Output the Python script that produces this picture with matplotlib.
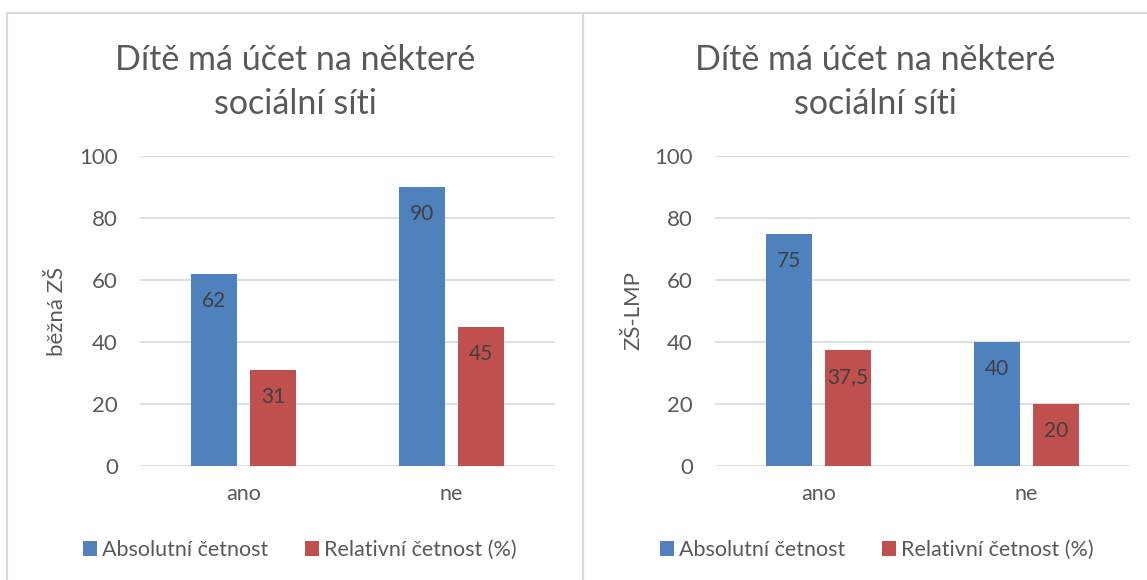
import matplotlib.pyplot as plt
from matplotlib.patches import Rectangle

plt.rcParams['font.family'] = ['Lato', 'DejaVu Sans']

categories = ["ano", "ne"]
left_abs = [62, 90]
left_rel = [31, 45]
right_abs = [75, 40]
right_rel = [37.5, 20]
yticks = [0, 20, 40, 60, 80, 100]
title = "Dítě má účet na některé\nsociální síti"
series_names = ["Absolutní četnost", "Relativní četnost (%)"]

BLUE = "#4F81BD"
RED = "#C0504D"
GRID = "#D9D9D9"
TXT = "#595959"
LBL = "#404040"

W, H = 1147, 580
fig = plt.figure(figsize=(W / 100, H / 100), dpi=100)

# panel frames
for x0, x1 in [(7, 583), (583, 1160)]:
    fig.patches.append(Rectangle((x0 / W, -0.1), (x1 - x0) / W, 1.1 - 13 / H,
                                 transform=fig.transFigure, fill=False,
                                 edgecolor=GRID, linewidth=1.5))


def fmt(v):
    return f"{v:g}".replace(".", ",")


def panel(left_px, abs_vals, rel_vals, ylabel, ylabel_x, title_x, legend_x):
    ax = fig.add_axes([left_px / W, 1 - 466 / H, 415 / W, 310 / H])
    x = list(range(len(categories)))
    w = 0.22
    off = 0.142
    b1 = ax.bar([i - off for i in x], abs_vals, w, color=BLUE, label=series_names[0], zorder=3)
    b2 = ax.bar([i + off for i in x], rel_vals, w, color=RED, label=series_names[1], zorder=3)
    for bars, vals in [(b1, abs_vals), (b2, rel_vals)]:
        for r, v in zip(bars, vals):
            ax.annotate(fmt(v), (r.get_x() + r.get_width() / 2, v), xytext=(0, -19.5),
                        textcoords="offset points", ha="center", va="center",
                        fontsize=15, color=LBL, zorder=4)
    ax.set_xlim(-0.5, len(categories) - 0.5)
    ax.set_ylim(0, 100)
    ax.set_yticks(yticks)
    ax.set_xticks(x)
    ax.set_xticklabels(categories)
    ax.tick_params(axis="both", length=0, labelsize=16, labelcolor=TXT)
    ax.tick_params(axis="x", labelsize=15.5, pad=13)
    ax.tick_params(axis="y", pad=16)
    for s in ax.spines.values():
        s.set_visible(False)
    ax.yaxis.grid(True, color=GRID, linewidth=1.2, zorder=0)
    ax.set_axisbelow(True)
    fig.text(ylabel_x / W, 1 - 311 / H, ylabel, rotation=90, ha="center", va="center",
             fontsize=16, color=TXT)
    fig.text(title_x / W, 1 - 82 / H, title, ha="center", va="center", fontsize=24.5,
             color=TXT, linespacing=1.45)
    fig.legend(handles=[b1, b2], loc="center", bbox_to_anchor=(legend_x / W, 1 - 550 / H),
               ncol=2, frameon=False, fontsize=15.5, handlelength=0.65, handleheight=0.65,
               handletextpad=0.25, columnspacing=1.7, labelcolor=TXT)
    return ax


panel(140, left_abs, left_rel, "běžná ZŠ", 57, 295, 300)
panel(715, right_abs, right_rel, "ZŠ-LMP", 633, 875, 877)

fig.savefig("out.png", dpi=100)
